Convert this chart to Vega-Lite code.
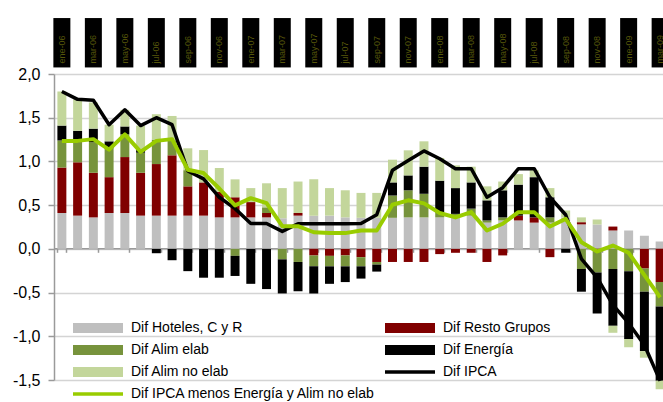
{
  "$schema": "https://vega.github.io/schema/vega-lite/v6.json",
  "width": 609,
  "height": 306,
  "autosize": {"type": "none"},
  "padding": {"left": 54, "top": 74, "right": 0, "bottom": 22},
  "background": "white",
  "config": {"view": {"stroke": null}, "font": "Liberation Sans"},
  "datasets": {
    "d": [
      {"mes": "ene-06", "h": 0.41, "r": 0.52, "ae": 0.31, "e": 0.17, "ane": 0.39, "ipca": 1.80, "core": 1.235},
      {"mes": "feb-06", "h": 0.38, "r": 0.61, "ae": 0.23, "e": 0.13, "ane": 0.36, "ipca": 1.71, "core": 1.235},
      {"mes": "mar-06", "h": 0.36, "r": 0.51, "ae": 0.35, "e": 0.155, "ane": 0.30, "ipca": 1.70, "core": 1.255},
      {"mes": "abr-06", "h": 0.41, "r": 0.41, "ae": 0.33, "e": 0.08, "ane": 0.19, "ipca": 1.42, "core": 1.135},
      {"mes": "may-06", "h": 0.41, "r": 0.64, "ae": 0.26, "e": 0.09, "ane": 0.19, "ipca": 1.59, "core": 1.31},
      {"mes": "jun-06", "h": 0.38, "r": 0.49, "ae": 0.23, "e": 0.03, "ane": 0.28, "ipca": 1.41, "core": 1.11},
      {"mes": "jul-06", "h": 0.38, "r": 0.59, "ae": 0.28, "e": -0.05, "ane": 0.29, "ipca": 1.50, "core": 1.235},
      {"mes": "ago-06", "h": 0.38, "r": 0.69, "ae": 0.17, "e": -0.13, "ane": 0.28, "ipca": 1.42, "core": 1.255},
      {"mes": "sep-06", "h": 0.38, "r": 0.335, "ae": 0.185, "e": -0.255, "ane": 0.25, "ipca": 0.89, "core": 0.905},
      {"mes": "oct-06", "h": 0.38, "r": 0.38, "ae": 0.0, "e": -0.33, "ane": 0.37, "ipca": 0.80, "core": 0.867},
      {"mes": "nov-06", "h": 0.36, "r": 0.29, "ae": 0.0, "e": -0.33, "ane": 0.275, "ipca": 0.59, "core": 0.69},
      {"mes": "dic-06", "h": 0.36, "r": 0.23, "ae": -0.08, "e": -0.23, "ane": 0.205, "ipca": 0.46, "core": 0.497},
      {"mes": "ene-07", "h": 0.36, "r": 0.175, "ae": 0.0, "e": -0.40, "ane": 0.16, "ipca": 0.29, "core": 0.58},
      {"mes": "feb-07", "h": 0.36, "r": 0.05, "ae": 0.065, "e": -0.46, "ane": 0.275, "ipca": 0.29, "core": 0.523},
      {"mes": "mar-07", "h": 0.35, "r": 0.0, "ae": -0.12, "e": -0.39, "ane": 0.345, "ipca": 0.20, "core": 0.26},
      {"mes": "abr-07", "h": 0.38, "r": 0.03, "ae": -0.15, "e": -0.335, "ane": 0.36, "ipca": 0.287, "core": 0.26},
      {"mes": "may-07", "h": 0.38, "r": -0.075, "ae": -0.125, "e": -0.31, "ane": 0.415, "ipca": 0.287, "core": 0.19},
      {"mes": "jun-07", "h": 0.38, "r": -0.08, "ae": -0.12, "e": -0.20, "ane": 0.315, "ipca": 0.287, "core": 0.18},
      {"mes": "jul-07", "h": 0.36, "r": -0.075, "ae": -0.125, "e": -0.18, "ane": 0.31, "ipca": 0.287, "core": 0.18},
      {"mes": "ago-07", "h": 0.355, "r": -0.095, "ae": -0.105, "e": -0.14, "ane": 0.285, "ipca": 0.29, "core": 0.21},
      {"mes": "sep-07", "h": 0.355, "r": -0.15, "ae": -0.03, "e": -0.08, "ane": 0.285, "ipca": 0.39, "core": 0.21},
      {"mes": "oct-07", "h": 0.355, "r": -0.15, "ae": 0.255, "e": 0.15, "ane": 0.26, "ipca": 0.90, "core": 0.505},
      {"mes": "nov-07", "h": 0.36, "r": -0.15, "ae": 0.31, "e": 0.17, "ane": 0.287, "ipca": 1.01, "core": 0.555},
      {"mes": "dic-07", "h": 0.36, "r": -0.15, "ae": 0.27, "e": 0.31, "ane": 0.29, "ipca": 1.12, "core": 0.52},
      {"mes": "ene-08", "h": 0.36, "r": -0.06, "ae": 0.06, "e": 0.36, "ane": 0.26, "ipca": 1.03, "core": 0.41},
      {"mes": "feb-08", "h": 0.36, "r": -0.045, "ae": 0.04, "e": 0.295, "ane": 0.26, "ipca": 0.917, "core": 0.36},
      {"mes": "mar-08", "h": 0.38, "r": -0.045, "ae": 0.08, "e": 0.30, "ane": 0.18, "ipca": 0.917, "core": 0.42},
      {"mes": "abr-08", "h": 0.30, "r": -0.15, "ae": 0.025, "e": 0.23, "ane": 0.16, "ipca": 0.59, "core": 0.21},
      {"mes": "may-08", "h": 0.325, "r": -0.075, "ae": 0.035, "e": 0.31, "ane": 0.10, "ipca": 0.70, "core": 0.287},
      {"mes": "jun-08", "h": 0.325, "r": 0.055, "ae": 0.0, "e": 0.355, "ane": 0.12, "ipca": 0.917, "core": 0.42},
      {"mes": "jul-08", "h": 0.30, "r": 0.06, "ae": 0.0, "e": 0.46, "ane": 0.08, "ipca": 0.917, "core": 0.42},
      {"mes": "ago-08", "h": 0.30, "r": -0.095, "ae": 0.06, "e": 0.23, "ane": 0.105, "ipca": 0.59, "core": 0.255},
      {"mes": "sep-08", "h": 0.36, "r": 0.0, "ae": 0.0, "e": -0.045, "ane": 0.08, "ipca": 0.39, "core": 0.343},
      {"mes": "oct-08", "h": 0.28, "r": 0.025, "ae": -0.23, "e": -0.26, "ane": 0.055, "ipca": -0.115, "core": 0.076},
      {"mes": "nov-08", "h": 0.28, "r": -0.02, "ae": -0.25, "e": -0.47, "ane": 0.055, "ipca": -0.33, "core": -0.03},
      {"mes": "dic-08", "h": 0.21, "r": 0.045, "ae": -0.23, "e": -0.65, "ane": -0.08, "ipca": -0.64, "core": 0.038},
      {"mes": "ene-09", "h": 0.21, "r": 0.0, "ae": -0.255, "e": -0.775, "ane": -0.095, "ipca": -0.85, "core": -0.045},
      {"mes": "feb-09", "h": 0.15, "r": -0.225, "ae": -0.265, "e": -0.68, "ane": -0.075, "ipca": -1.10, "core": -0.30},
      {"mes": "mar-09", "h": 0.085, "r": -0.38, "ae": -0.28, "e": -0.85, "ane": -0.095, "ipca": -1.51, "core": -0.555}
    ],
    "comp": [
      {"k": "h", "name": "Dif Hoteles, C y R", "ord": 1},
      {"k": "r", "name": "Dif Resto Grupos", "ord": 2},
      {"k": "ae", "name": "Dif Alim elab", "ord": 3},
      {"k": "e", "name": "Dif Energía", "ord": 4},
      {"k": "ane", "name": "Dif Alim no elab", "ord": 5}
    ],
    "etiq": [
      {"mes": "ene-06"}, {"mes": "mar-06"}, {"mes": "may-06"}, {"mes": "jul-06"}, {"mes": "sep-06"}, {"mes": "nov-06"},
      {"mes": "ene-07"}, {"mes": "mar-07"}, {"mes": "may-07"}, {"mes": "jul-07"}, {"mes": "sep-07"}, {"mes": "nov-07"},
      {"mes": "ene-08"}, {"mes": "mar-08"}, {"mes": "may-08"}, {"mes": "jul-08"}, {"mes": "sep-08"}, {"mes": "nov-08"},
      {"mes": "ene-09"}, {"mes": "mar-09"}
    ]
  },
  "layer": [
    {
      "data": {"name": "d"},
      "transform": [
        {"fold": ["h", "r", "ae", "e", "ane"], "as": ["k", "v"]},
        {"lookup": "k", "from": {"data": {"name": "comp"}, "key": "k", "fields": ["name", "ord"]}}
      ],
      "mark": {"type": "bar"},
      "encoding": {
        "x": {
          "field": "mes", "type": "nominal",
          "scale": {
            "domain": ["ene-06","feb-06","mar-06","abr-06","may-06","jun-06","jul-06","ago-06","sep-06","oct-06","nov-06","dic-06",
                       "ene-07","feb-07","mar-07","abr-07","may-07","jun-07","jul-07","ago-07","sep-07","oct-07","nov-07","dic-07",
                       "ene-08","feb-08","mar-08","abr-08","may-08","jun-08","jul-08","ago-08","sep-08","oct-08","nov-08","dic-08",
                       "ene-09","feb-09","mar-09"],
            "range": [0, 614],
            "paddingInner": 0.43,
            "paddingOuter": 0.215
          },
          "axis": {
            "orient": "bottom", "offset": -131.7, "labels": false, "title": null, "grid": false,
            "domainColor": "#9a9a9a", "domainWidth": 1.5, "tickColor": "#9a9a9a", "tickWidth": 1.5, "tickSize": 4,
            "tickBand": "extent",
            "values": ["ene-06","mar-06","may-06","jul-06","sep-06","nov-06","ene-07","mar-07","may-07","jul-07","sep-07","nov-07","ene-08","mar-08","may-08","jul-08","sep-08","nov-08","ene-09","mar-09"]
          }
        },
        "y": {
          "field": "v", "type": "quantitative", "stack": "zero",
          "scale": {"domain": [-1.5, 2.0], "nice": false, "zero": false},
          "axis": {
            "title": null,
            "values": [-1.5, -1, -0.5, 0, 0.5, 1, 1.5, 2],
            "labelExpr": "replace(replace(format(datum.value, '.1f'), '.', ','), '−', '-')",
            "labelFont": "Liberation Sans", "labelFontSize": 16, "labelColor": "#000000",
            "labelPadding": 8, "tickSize": 6, "tickColor": "#9a9a9a", "tickWidth": 1.5,
            "domainColor": "#9a9a9a", "domainWidth": 1.5,
            "gridColor": "#d4d4d4", "gridWidth": 1.5
          }
        },
        "color": {
          "field": "name", "type": "nominal",
          "scale": {
            "domain": ["Dif Hoteles, C y R", "Dif Resto Grupos", "Dif Alim elab", "Dif Energía", "Dif Alim no elab", "Dif IPCA", "Dif IPCA menos Energía y Alim no elab"],
            "range": ["#bfbfbf", "#800000", "#77933c", "#000000", "#c3d69b", "#000000", "#99cc00"]
          },
          "legend": {
            "orient": "none", "legendX": 37, "legendY": 247, "columns": 2, "direction": "horizontal", "title": null,
            "padding": 0, "symbolSize": 100, "symbolStrokeWidth": 0, "symbolType": "M-5,-1H5V1H-5Z",
            "labelFont": "Liberation Sans", "labelFontSize": 14, "labelColor": "#000000", "labelLimit": 400,
            "labelOffset": 26, "rowPadding": 8, "columnPadding": 9,
            "encode": {
              "symbols": {
                "update": {
                  "shape": {"signal": "indexof(['Dif IPCA', 'Dif IPCA menos Energía y Alim no elab'], datum.value) >= 0 ? 'M-5,-0.35H5V0.35H-5Z' : 'M-5,-1H5V1H-5Z'"},
                  "fill": {"scale": "color", "field": "value"},
                  "stroke": {"value": "transparent"},
                  "strokeWidth": {"value": 0},
                  "opacity": {"value": 1}
                }
              }
            }
          }
        },
        "order": {"field": "ord", "type": "quantitative"}
      }
    },
    {
      "data": {"name": "d"},
      "mark": {"type": "line", "color": "#000000", "strokeWidth": 3.5, "strokeJoin": "round"},
      "encoding": {
        "x": {"field": "mes", "type": "nominal"},
        "y": {"field": "ipca", "type": "quantitative"}
      }
    },
    {
      "data": {"name": "d"},
      "mark": {"type": "line", "color": "#99cc00", "strokeWidth": 4, "strokeJoin": "round"},
      "encoding": {
        "x": {"field": "mes", "type": "nominal"},
        "y": {"field": "core", "type": "quantitative"}
      }
    },
    {
      "data": {"name": "etiq"},
      "mark": {"type": "bar", "color": "#000000", "width": 17},
      "encoding": {
        "x": {"field": "mes", "type": "nominal"},
        "y": {"datum": 2.075},
        "y2": {"datum": 2.64}
      }
    },
    {
      "data": {"name": "etiq"},
      "mark": {"type": "text", "angle": 270, "align": "left", "baseline": "middle", "fontSize": 9, "color": "#55550a", "font": "Liberation Sans"},
      "encoding": {
        "x": {"field": "mes", "type": "nominal"},
        "y": {"datum": 2.12},
        "text": {"field": "mes"}
      }
    }
  ]
}
